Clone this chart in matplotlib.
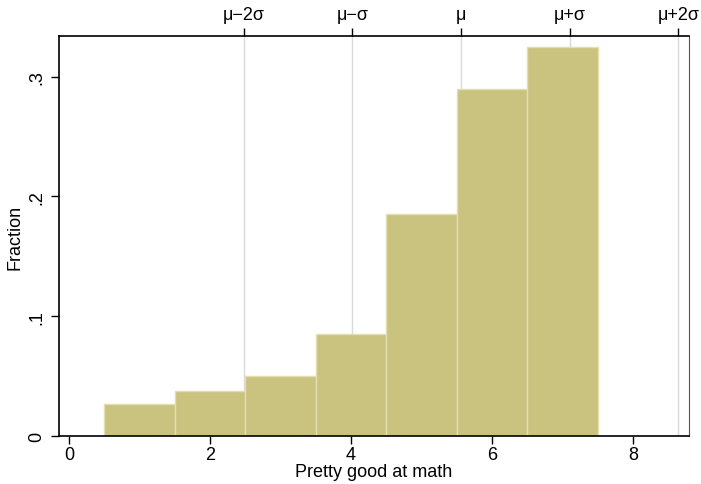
import matplotlib
matplotlib.use("Agg")
import matplotlib.pyplot as plt

# histogram data (value -> fraction)
bin_centers = [1, 2, 3, 4, 5, 6, 7]
fractions = [0.0265, 0.0375, 0.0505, 0.0850, 0.1855, 0.2900, 0.3250]

# mean and sd markers on the top axis
mu = 5.56
sigma = 1.54
sd_steps = [-2, -1, 0, 1, 2]
sd_labels = ["\u03bc\u22122\u03c3", "\u03bc\u2212\u03c3", "\u03bc", "\u03bc+\u03c3", "\u03bc+2\u03c3"]

x_ticks = [0, 2, 4, 6, 8]
y_ticks = [0, 0.1, 0.2, 0.3]
y_ticklabels = ["0", ".1", ".2", ".3"]

plt.rcParams["font.family"] = ["Liberation Sans", "DejaVu Sans"]
plt.rcParams["font.size"] = 13

fig = plt.figure(figsize=(7.01, 4.85), dpi=100)
ax = fig.add_axes([59 / 701, 48 / 485, 630 / 701, 400 / 485])

sd_pos = [mu + k * sigma for k in sd_steps]
for p in sd_pos:
    ax.axvline(p, color="#d9d9d9", lw=1.0, zorder=1)

ax.bar(bin_centers, fractions, width=1.0, color="#cac27f",
       edgecolor="#e3dfb0", linewidth=1.0, zorder=2)

ax.set_xlim(-0.14, 8.79)
ax.set_ylim(0, 0.334)

ax.set_xticks(x_ticks)
ax.set_yticks(y_ticks)
ax.set_yticklabels(y_ticklabels, rotation=90, va="center")
ax.tick_params(axis="both", direction="out", length=6, width=1, color="black")
ax.tick_params(axis="x", pad=1.5)
ax.tick_params(axis="y", pad=4)

ax.set_xlabel("Pretty good at math", labelpad=0)
ax.set_ylabel("Fraction", labelpad=3)

for side in ["left", "bottom", "top"]:
    ax.spines[side].set_color("black")
    ax.spines[side].set_linewidth(1.2)
ax.spines["right"].set_color("#555555")
ax.spines["right"].set_linewidth(0.8)

top = ax.twiny()
top.set_xlim(ax.get_xlim())
top.set_xticks(sd_pos)
top.set_xticklabels(sd_labels)
top.tick_params(axis="x", direction="out", length=6, width=1, color="black", pad=3)
for side in ["left", "bottom", "right", "top"]:
    top.spines[side].set_visible(False)

fig.savefig("out.png", dpi=100)
